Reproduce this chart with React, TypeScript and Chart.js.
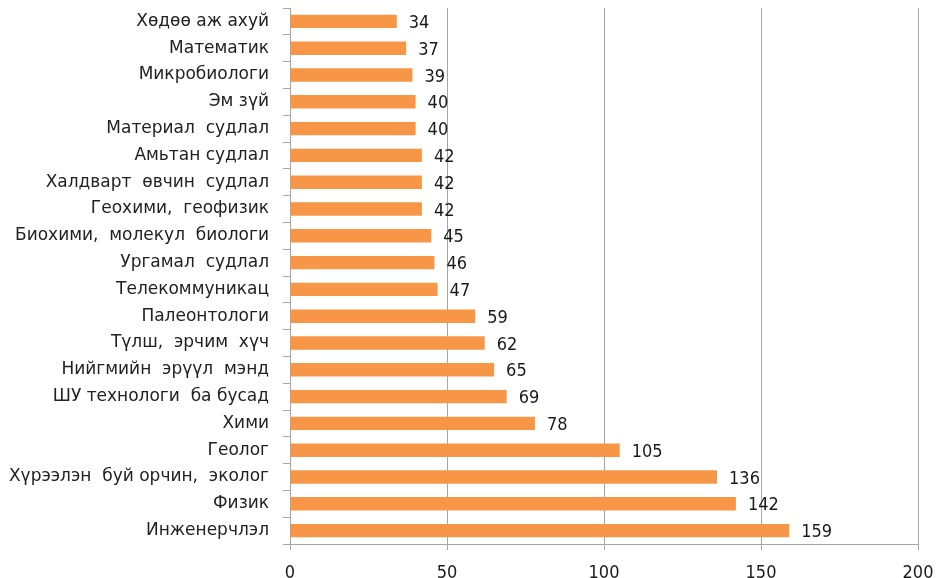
import React, { useEffect, useRef } from "react";
import { Chart, registerables } from "chart.js";

Chart.register(...registerables);

const categories = [
  "Хөдөө аж ахуй",
  "Математик",
  "Микробиологи",
  "Эм зүй",
  "Материал  судлал",
  "Амьтан судлал",
  "Халдварт  өвчин  судлал",
  "Геохими,  геофизик",
  "Биохими,  молекул  биологи",
  "Ургамал  судлал",
  "Телекоммуникац",
  "Палеонтологи",
  "Түлш,  эрчим  хүч",
  "Нийгмийн  эрүүл  мэнд",
  "ШУ технологи  ба бусад",
  "Хими",
  "Геолог",
  "Хүрээлэн  буй орчин,  эколог",
  "Физик",
  "Инженерчлэл",
];

const values = [34, 37, 39, 40, 40, 42, 42, 42, 45, 46, 47, 59, 62, 65, 69, 78, 105, 136, 142, 159];

const xTicks = [0, 50, 100, 150, 200];

const FONT = "'DejaVu Sans', Verdana, sans-serif";
const NUMFONT = "'DejaVu Sans Condensed', 'DejaVu Sans', sans-serif";

const valueLabels = {
  id: "valueLabels",
  afterDatasetsDraw(chart: any) {
    const ctx = chart.ctx;
    const meta = chart.getDatasetMeta(0);
    ctx.save();
    ctx.font = `18px ${NUMFONT}`;
    ctx.fillStyle = "#1a1a1a";
    ctx.textAlign = "left";
    ctx.textBaseline = "middle";
    meta.data.forEach((bar: any, i: number) => {
      ctx.fillText(String(values[i]), bar.x + 12, bar.y + 2);
    });
    ctx.restore();
  },
};

export default function App() {
  const ref = useRef<HTMLCanvasElement>(null);

  useEffect(() => {
    document.body.style.margin = "0";
    const chart = new Chart(ref.current!, {
      type: "bar",
      data: {
        labels: categories,
        datasets: [
          {
            data: values,
            backgroundColor: "#F79646",
            borderWidth: 0,
            categoryPercentage: 0.5,
            barPercentage: 1,
          },
        ],
      },
      options: {
        indexAxis: "y",
        animation: false,
        responsive: false,
        maintainAspectRatio: false,
        layout: { padding: { top: 8, right: 25, left: 0, bottom: 0 } },
        plugins: {
          legend: { display: false },
          tooltip: { enabled: false },
          title: { display: false },
        },
        scales: {
          x: {
            min: 0,
            max: 200,
            afterBuildTicks: (scale: any) => {
              scale.ticks = xTicks.map((v) => ({ value: v }));
            },
            afterFit: (scale: any) => {
              scale.height = 34;
              scale.paddingLeft = 0;
              scale.paddingRight = 0;
            },
            grid: {
              color: "#A6A6A6",
              lineWidth: 1,
              drawTicks: true,
              tickLength: 6,
              tickColor: "#A6A6A6",
            },
            border: { color: "#A6A6A6" },
            ticks: {
              color: "#1a1a1a",
              font: { family: NUMFONT, size: 18 },
              padding: 13,
              maxRotation: 0,
            },
          },
          y: {
            afterFit: (scale: any) => {
              scale.width = 290;
              scale.paddingTop = 0;
              scale.paddingBottom = 0;
            },
            grid: {
              offset: true,
              drawOnChartArea: false,
              drawTicks: true,
              tickLength: 7,
              tickColor: "#A6A6A6",
            },
            border: { color: "#A6A6A6" },
            ticks: {
              color: "#222222",
              font: { family: FONT, size: 17 },
              padding: 14,
              autoSkip: false,
            },
          },
        },
      },
      plugins: [valueLabels],
    });
    return () => chart.destroy();
  }, []);

  return (
    <div style={{ position: "absolute", left: 0, top: 0, width: 943, height: 578, background: "#fff" }}>
      <canvas ref={ref} width={943} height={578} style={{ width: 943, height: 578 }} />
    </div>
  );
}
